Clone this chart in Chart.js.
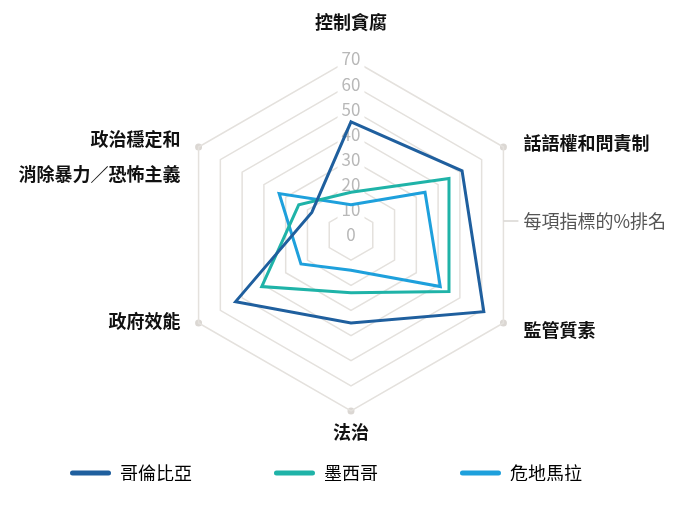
<!DOCTYPE html>
<html lang="zh-Hant">
<head>
<meta charset="utf-8">
<script src="https://cdn.jsdelivr.net/npm/chart.js@4.4.1/dist/chart.umd.min.js"></script>
<style>
    html, body { margin: 0; padding: 0; background: #fff; }
    #caixa { width: 695px; height: 516px; }
</style>
</head>
<body>
<div id="caixa"><canvas id="grafico"></canvas></div>
<script>
// Dados (percentil de cada indicador)
const categorias = ['控制貪腐', '話語權和問責制', '監管質素', '法治', '政府效能', ['政治穩定和', '消除暴力／恐怖主義']];
const paises = ['哥倫比亞', '墨西哥', '危地馬拉'];
const colombia = [45, 51, 61, 35, 53, 18];
const mexico = [17, 45, 45, 23, 41, 24];
const guatemala = [12, 34, 41, 14, 23, 33];
const marcasEscala = [0, 10, 20, 30, 40, 50, 60, 70];
const notaEixo = '每項指標的%排名';

const cores = ['#1f5f9e', '#1fb3a8', '#1ea0dc'];
const fonte = "'Noto Sans CJK TC', 'Noto Sans', sans-serif";
const espacoLegenda = 82;

// posicao de cada rotulo em relacao ao vertice externo: [dx, dy, alinhamento]
const posRotulos = [[0, -37, 'center'], [20, -4, 'left'], [20, 7, 'left'], [0, 21, 'center'], [-18, -2, 'right'], [-18, -8, 'right']];

const rotulos = {
    id: 'rotulos',
    afterLayout(chart) {
        // legenda: itens mais espacados sem empurrar o radar
        chart.legend.left -= 19;
        chart.legend.top -= espacoLegenda - 43;
    },
    beforeDraw(chart) {
        const r = chart.scales.r, ctx = chart.ctx;
        ctx.save();
        ctx.fillStyle = '#dbd7d3';
        categorias.forEach((_, i) => {
            const p = r.getPointPosition(i, r.drawingArea);
            ctx.beginPath();
            ctx.arc(p.x, p.y, 3.5, 0, 2 * Math.PI);
            ctx.fill();
        });
        ctx.restore();
    },
    afterDraw(chart) {
        const r = chart.scales.r, ctx = chart.ctx;
        ctx.save();
        ctx.font = 'bold 18px ' + fonte;
        ctx.fillStyle = '#111';
        ctx.textBaseline = 'middle';
        categorias.forEach((cat, i) => {
            const p = r.getPointPosition(i, r.drawingArea);
            const [dx, dy, alinhar] = posRotulos[i];
            ctx.textAlign = alinhar;
            [].concat(cat).forEach((linha, j) => ctx.fillText(linha, p.x + dx, p.y + dy + j * 35));
        });
        // nota ao lado do eixo
        const xBorda = r.xCenter + r.drawingArea * Math.cos(Math.PI / 6);
        const yNota = r.yCenter - 14;
        ctx.strokeStyle = '#d9d6d2';
        ctx.lineWidth = 1.5;
        ctx.beginPath();
        ctx.moveTo(xBorda, yNota);
        ctx.lineTo(xBorda + 15, yNota);
        ctx.stroke();
        ctx.font = '18px ' + fonte;
        ctx.fillStyle = '#555';
        ctx.textAlign = 'left';
        ctx.fillText(notaEixo, xBorda + 20, yNota);
        ctx.restore();
    }
};

const series = [colombia, mexico, guatemala];

new Chart(document.getElementById('grafico'), {
    type: 'radar',
    data: {
        labels: categorias,
        datasets: series.map((valores, i) => ({
            label: paises[i],
            data: valores,
            borderColor: cores[i],
            backgroundColor: 'rgba(0,0,0,0)',
            borderWidth: 3,
            pointRadius: 0,
            pointHoverRadius: 0,
            fill: false
        }))
    },
    options: {
        responsive: true,
        maintainAspectRatio: false,
        animation: false,
        layout: { padding: { left: 7, right: 0, top: 49, bottom: 35 } },
        elements: { line: { tension: 0 } },
        scales: {
            r: {
                min: -0.001,
                max: marcasEscala[marcasEscala.length - 1],
                angleLines: { display: false },
                grid: { color: '#e4e1dd', lineWidth: 1.5 },
                pointLabels: { display: false },
                ticks: {
                    stepSize: marcasEscala[1] - marcasEscala[0],
                    color: '#b8b8b8',
                    font: { size: 17, family: fonte },
                    backdropColor: '#fff',
                    backdropPadding: { x: 4, y: 1.5 },
                    callback: v => String(Math.round(v))
                }
            }
        },
        plugins: {
            tooltip: { enabled: false },
            legend: {
                position: 'bottom',
                align: 'start',
                maxHeight: 60,
                labels: {
                    boxWidth: 41,
                    boxHeight: 5,
                    padding: espacoLegenda,
                    color: '#3a3a3a',
                    font: { size: 18, family: fonte },
                    useBorderRadius: true,
                    borderRadius: 2.5,
                    generateLabels: chart => chart.data.datasets.map((ds, i) => ({
                        text: ds.label,
                        fillStyle: ds.borderColor,
                        strokeStyle: ds.borderColor,
                        lineWidth: 0,
                        borderRadius: 2.5,
                        datasetIndex: i,
                        hidden: !chart.isDatasetVisible(i)
                    }))
                }
            }
        }
    },
    plugins: [rotulos]
});
</script>
</body>
</html>
